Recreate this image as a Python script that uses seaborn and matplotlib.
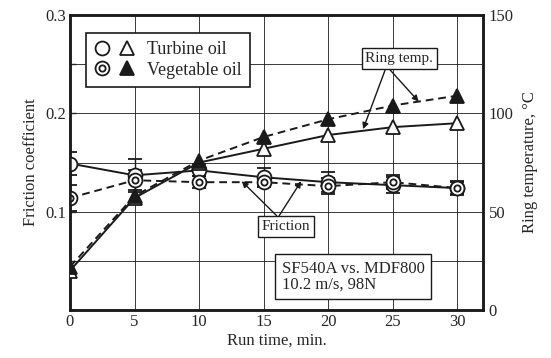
import numpy as np
import matplotlib
matplotlib.use("Agg")
import matplotlib.pyplot as plt
import seaborn as sns
from matplotlib.path import Path
from matplotlib.lines import Line2D
from matplotlib.legend_handler import HandlerTuple

# ---- data ----
time_min = [0, 5, 10, 15, 20, 25, 30]
friction_turbine = [0.149, 0.137, 0.142, 0.135, 0.130, 0.127, 0.124]
friction_turbine_err = [0.012, 0.017, 0.006, 0.009, 0.010, 0.008, 0.007]
friction_vegetable = [0.114, 0.132, 0.130, 0.130, 0.126, 0.130, 0.124]
friction_vegetable_err = [0.013, 0.010, 0.006, 0.005, 0.008, 0.007, 0.006]
temp_turbine = [20, 57, 75, 82, 89, 93, 95]
temp_vegetable = [22, 58, 76, 88, 97, 104, 109]

x_ticks = [0, 5, 10, 15, 20, 25, 30]
left_ticks = [0.0, 0.05, 0.1, 0.15, 0.2, 0.25, 0.3]
left_ticklabels = ["", "", "0.1", "", "0.2", "", "0.3"]
right_ticks = [0, 50, 100, 150]

sns.set_theme(style="white")
plt.rcParams['font.family'] = ['Liberation Serif', 'DejaVu Serif']
plt.rcParams['mathtext.fontset'] = 'stix'

fig = plt.figure(figsize=(5.51, 3.58), dpi=100)
ax = fig.add_axes([0.127, 0.134, 0.750, 0.824])
ax2 = ax.twinx()

# double-circle marker
dbl_circle = Path.make_compound_path(Path.circle((0, 0), 1.0), Path.circle((0, 0), 0.45))

mk = dict(markersize=10, markeredgecolor='k', markeredgewidth=1.3)

# friction (left axis)
ax.errorbar(time_min, friction_turbine, yerr=friction_turbine_err, fmt='none',
            ecolor='k', elinewidth=1.0, capsize=5, capthick=1.3, zorder=2)
ax.errorbar(time_min, friction_vegetable, yerr=friction_vegetable_err, fmt='none',
            ecolor='k', elinewidth=1.0, capsize=5, capthick=1.3, zorder=2)
sns.lineplot(x=time_min, y=friction_turbine, ax=ax, color='k', lw=1.4,
             marker='o', markerfacecolor='white', zorder=3, **mk)
sns.lineplot(x=time_min, y=friction_vegetable, ax=ax, color='k', lw=1.4,
             linestyle=(0, (4, 2.5)), marker=dbl_circle, markerfacecolor='white', zorder=4, **mk)

# ring temperature (right axis)
sns.lineplot(x=time_min, y=temp_turbine, ax=ax2, color='k', lw=1.4,
             marker='^', markerfacecolor='white', zorder=3, **mk)
sns.lineplot(x=time_min, y=temp_vegetable, ax=ax2, color='k', lw=1.4,
             linestyle=(0, (4, 2.5)), marker='^', markerfacecolor='k', zorder=4, **mk)

# axes settings
ax.set_xlim(0, 32)
ax.set_ylim(0, 0.3)
ax2.set_ylim(0, 150)
ax.set_xticks(x_ticks)
ax.set_xticklabels([str(t) for t in x_ticks], fontsize=12)
ax.set_yticks(left_ticks)
ax.set_yticklabels(left_ticklabels, fontsize=12)
ax2.set_yticks(right_ticks)
ax2.set_yticklabels([str(t) for t in right_ticks], fontsize=12)
ax.grid(True, color='k', lw=0.6)
ax2.grid(False)
ax.tick_params(axis='both', direction='in', length=4, width=1, pad=3)
ax2.tick_params(axis='y', direction='in', length=0, pad=4)
for a in (ax, ax2):
    for s in a.spines.values():
        s.set_color('k')
        s.set_linewidth(1.8)

ax.set_xlabel("Run time, min.", fontsize=12, labelpad=2)
ax.set_ylabel("Friction coefficient", fontsize=12, labelpad=4)
ax2.set_ylabel("Ring temperature, °C", fontsize=12, labelpad=6)

# legend
turb_h = (Line2D([], [], ls='none', marker='o', markerfacecolor='white', **mk),
          Line2D([], [], ls='none', marker='^', markerfacecolor='white', **mk))
veg_h = (Line2D([], [], ls='none', marker=dbl_circle, markerfacecolor='white', **mk),
         Line2D([], [], ls='none', marker='^', markerfacecolor='k', **mk))
leg = ax2.legend([turb_h, veg_h], ["Turbine oil", "Vegetable oil"],
                 handler_map={tuple: HandlerTuple(ndivide=None, pad=0.5)},
                 loc='upper left', bbox_to_anchor=(0.018, 0.97), frameon=True,
                 fancybox=False, edgecolor='k', framealpha=1, fontsize=13,
                 handlelength=2.2, borderpad=0.45, labelspacing=0.2, handletextpad=0.7)
leg.get_frame().set_linewidth(1.2)

box = dict(boxstyle='square,pad=0.25', facecolor='white', edgecolor='k', lw=1.0)
arrow = dict(arrowstyle='-|>', color='k', lw=1.0, mutation_scale=9, shrinkA=0, shrinkB=0)

# Ring temp. annotation (right axis coordinates)
ax2.text(25.5, 128, "Ring temp.", fontsize=11, ha='center', va='center', bbox=box, zorder=6)
ax2.annotate("", xy=(22.7, 92), xytext=(24.4, 122), arrowprops=arrow, zorder=6)
ax2.annotate("", xy=(27.0, 106), xytext=(24.8, 122), arrowprops=arrow, zorder=6)

# Friction annotation
ax2.text(16.7, 42.5, "Friction", fontsize=11, ha='center', va='center', bbox=box, zorder=6)
ax2.annotate("", xy=(13.3, 65.5), xytext=(16.0, 48), arrowprops=arrow, zorder=6)
ax2.annotate("", xy=(17.9, 65.5), xytext=(16.2, 48), arrowprops=arrow, zorder=6)

# test condition box
ax2.text(16.4, 17, "SF540A vs. MDF800\n10.2 m/s, 98N", fontsize=12, ha='left', va='center',
         linespacing=1.0,
         bbox=dict(boxstyle='square,pad=0.4', facecolor='white', edgecolor='k', lw=1.0), zorder=6)

fig.savefig("out.png", dpi=100)
